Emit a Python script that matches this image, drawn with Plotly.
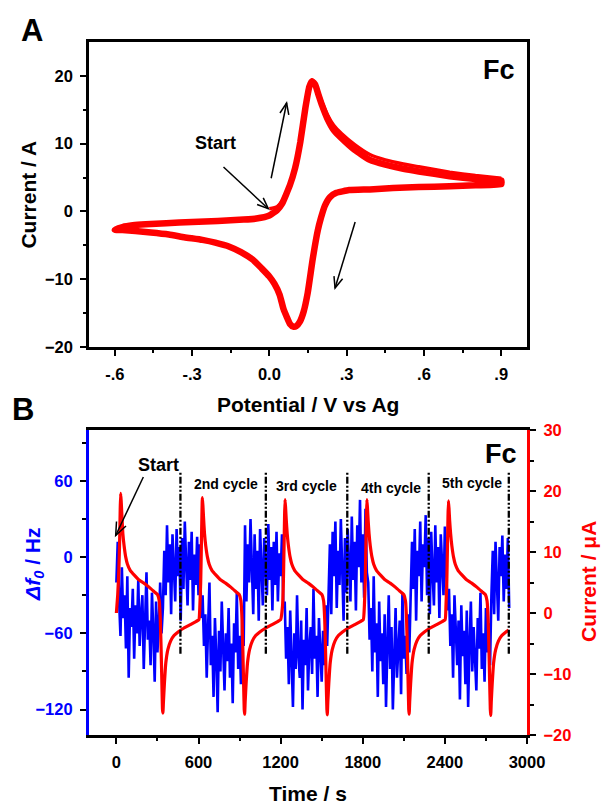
import math
import plotly.graph_objects as go

# ---------------- Panel A: cyclic voltammogram of Fc ----------------
# forward (anodic) sweep, -0.6 V -> 0.9 V
cv_fwd_E = [-0.60, -0.57, -0.53, -0.48, -0.40, -0.30, -0.20, -0.10, -0.05, 0.00,
            0.03, 0.05, 0.08, 0.10, 0.12, 0.14, 0.155, 0.166, 0.178, 0.19,
            0.205, 0.225, 0.25, 0.28, 0.33, 0.39, 0.45, 0.52, 0.58, 0.70, 0.80, 0.90]
cv_fwd_I = [-2.7, -2.3, -2.05, -1.9, -1.75, -1.55, -1.4, -1.2, -1.05, -0.6,
            0.2, 1.2, 3.9, 6.4, 10.2, 15.3, 18.4, 19.2, 18.7, 17.3,
            15.6, 13.7, 12.0, 10.8, 9.1, 7.6, 6.9, 6.3, 5.9, 5.2, 4.8, 4.6]
# reverse (cathodic) sweep, 0.9 V -> -0.6 V
cv_rev_E = [0.90, 0.80, 0.70, 0.58, 0.48, 0.39, 0.31, 0.26, 0.235, 0.215, 0.20, 0.188,
            0.168, 0.149, 0.133, 0.118, 0.105, 0.093, 0.08, 0.068, 0.055, 0.04, 0.02,
            0.0, -0.03, -0.065, -0.11, -0.155, -0.21, -0.26, -0.33, -0.39, -0.46,
            -0.52, -0.57, -0.60]
cv_rev_I = [4.0, 3.85, 3.7, 3.6, 3.45, 3.25, 3.15, 2.75, 2.1, 0.8, -1.0, -2.8,
            -7.1, -12.0, -14.8, -16.3, -16.9, -17.0, -16.6, -15.6, -14.4, -12.3, -10.7,
            -9.6, -8.4, -7.1, -6.0, -5.2, -4.6, -4.2, -3.8, -3.4, -3.1,
            -2.9, -2.75, -2.7]
# first half-scan starting at 0.0 V
first_scan_E = [0.0, 0.03, 0.05, 0.08, 0.10, 0.12, 0.14, 0.155, 0.166, 0.178, 0.19,
                0.205, 0.225, 0.25, 0.28, 0.33, 0.39, 0.45, 0.52, 0.58, 0.70, 0.80, 0.90]
first_scan_I = [0.4, 0.7, 1.6, 4.1, 6.6, 10.4, 15.5, 18.6, 19.4, 18.9, 17.6,
                16.1, 14.3, 12.7, 11.5, 9.9, 8.4, 7.6, 7.0, 6.6, 5.8, 5.3, 4.9]

# ---------------- Panel B: EQCM frequency and current vs time ----------------
freq_time = list(range(0, 2880, 10))
freq_hz = [
    # 0 - 330 s
    -20, 12, -35, -62, -8, -48, -30, -72, -15, -95, -40, -55, -25, -80, -38, -60, -18,
    -70, -45, -30, -88, -42, -12, -65, -50, -85, -28, -58, -98, -35, -75, -52, -20, -60,
    # 340 - 620 s
    -40, 5, -30, 25, -20, 10, -45, 18, -5, -35, 22, -15, 8, -50, 15, -25, 28, -10,
    -38, 12, -18, 20, -42, 2, -22, 16, -30, 10, -48,
    # 630 - 930 s
    -30, -70, -45, -95, -55, -20, -85, -62, -110, -48, -78, -122, -58, -90, -35, -72,
    -105, -60, -82, -40, -95, -68, -115, -52, -75, -28, -88, -62, -100, -45, -70,
    # 940 - 1220 s
    25, -35, 10, -20, 30, -8, -45, 18, -25, 5, -50, 22, -12, -38, 15, -5, -30, 26,
    -18, 8, -42, 12, -22, 20, -35, 3, -15, 18, -40,
    # 1230 - 1540 s
    -35, -80, -55, -100, -42, -72, -118, -60, -88, -30, -78, -95, -50, -120, -65, -85,
    -40, -105, -70, -55, -92, -25, -80, -62, -110, -48, -75, -98, -58, -85, -38, -70,
    # 1550 - 1830 s
    -30, 10, -45, 20, -15, 28, -40, 5, -22, 30, -10, -50, 15, -28, 22, -5, -35, 32,
    -18, 12, -42, 25, -8, 45, -20, 18, -32, 38, -12,
    # 1840 - 2140 s
    -20, -65, -40, -90, -15, -75, -52, -110, -35, -82, -60, -100, -45, -118, -70, -30,
    -88, -55, -120, -65, -40, -95, -72, -50, -108, -28, -80, -62, -92, -45, -75,
    # 2150 - 2420 s
    -40, 12, -25, 22, -50, 5, -15, 28, -35, 10, -8, 33, -30, 15, -45, 20, -12, -38,
    25, -20, 8, -48, 18, -5, -30, 24, -18, -42,
    # 2430 - 2730 s
    -25, -70, -45, -95, -30, -62, -85, -50, -112, -38, -78, -58, -100, -42, -118, -68,
    -35, -90, -55, -80, -105, -48, -72, -28, -88, -60, -98, -40, -75, -52, -85,
    # 2740 - 2870 s
    -30, 5, -45, 12, -20, -50, 8, -15, 17, -35, 2, -25, 15, -40,
]

cur_t1 = [0, 10, 18, 24, 28, 31, 35, 40, 47, 56, 68, 81, 101, 131, 161, 201, 241, 276,
          301, 313, 321, 327, 332, 337, 340, 344, 351, 361, 376, 396, 421, 451, 491, 541,
          581, 603]
cur_i1 = [0.0, 3.0, 7.0, 12.0, 17.0, 19.6, 18.4, 16.1, 13.1, 11.1, 9.2, 8.0, 7.0, 6.2,
          5.5, 4.9, 4.2, 3.5, 3.0, 2.0, -1.0, -6.0, -11.0, -15.8, -16.4, -14.5, -11.5,
          -8.2, -6.0, -4.6, -3.7, -3.1, -2.5, -1.9, -1.4, -1.1]
cur_t2 = [610, 616, 621, 625, 628, 632, 637, 644, 653, 665, 678, 698, 728, 758, 798, 838,
          873, 898, 910, 918, 924, 929, 934, 937, 941, 948, 958, 973, 993, 1018, 1048,
          1088, 1138, 1178, 1200]
cur_i2 = [1.2, 5.0, 11.0, 16.0, 18.9, 17.7, 15.6, 13.0, 11.0, 9.2, 8.0, 7.0, 6.2, 5.5,
          4.9, 4.2, 3.5, 3.0, 2.0, -1.0, -6.0, -11.0, -15.8, -16.6, -14.5, -11.5, -8.2,
          -6.0, -4.6, -3.7, -3.1, -2.5, -1.9, -1.4, -1.1]
cur_t3 = [1214, 1220, 1225, 1229, 1232, 1236, 1241, 1248, 1257, 1269, 1282, 1302, 1332,
          1362, 1402, 1442, 1477, 1502, 1514, 1522, 1528, 1533, 1538, 1541, 1545, 1552,
          1562, 1577, 1597, 1622, 1652, 1692, 1742, 1782, 1804]
cur_i3 = [1.2, 5.0, 11.0, 16.0, 18.6, 17.4, 15.3, 13.0, 11.0, 9.2, 8.0, 7.0, 6.2, 5.5,
          4.9, 4.2, 3.5, 3.0, 2.0, -1.0, -6.0, -11.0, -15.8, -16.7, -14.5, -11.5, -8.2,
          -6.0, -4.6, -3.7, -3.1, -2.5, -1.9, -1.4, -1.1]
cur_t4 = [1812, 1818, 1823, 1827, 1830, 1834, 1839, 1846, 1855, 1867, 1880, 1900, 1930,
          1960, 2000, 2040, 2075, 2100, 2112, 2120, 2126, 2131, 2136, 2139, 2143, 2150,
          2160, 2175, 2195, 2220, 2250, 2290, 2340, 2380, 2402]
cur_i4 = [1.2, 5.0, 11.0, 16.0, 18.6, 17.4, 15.3, 13.0, 11.0, 9.2, 8.0, 7.0, 6.2, 5.5,
          4.9, 4.2, 3.5, 3.0, 2.0, -1.0, -6.0, -11.0, -15.8, -16.6, -14.5, -11.5, -8.2,
          -6.0, -4.6, -3.7, -3.1, -2.5, -1.9, -1.4, -1.1]
cur_t5 = [2408, 2414, 2419, 2423, 2426, 2430, 2435, 2442, 2451, 2463, 2476, 2496, 2526,
          2556, 2596, 2636, 2671, 2696, 2708, 2716, 2722, 2727, 2732, 2735, 2739, 2746,
          2756, 2771, 2791, 2816, 2846, 2866]
cur_i5 = [1.2, 5.0, 11.0, 16.0, 18.4, 17.2, 15.1, 13.0, 11.0, 9.2, 8.0, 7.0, 6.2, 5.5,
          4.9, 4.2, 3.5, 3.0, 2.0, -1.0, -6.0, -11.0, -15.8, -16.8, -14.5, -11.5, -8.2,
          -6.0, -4.6, -3.7, -3.1, -2.8]

cycle_bounds = [468, 1092, 1687, 2282, 2867]
cycle_names = ["2nd cycle", "3rd cycle", "4th cycle", "5th cycle"]

# ---------------- figure ----------------
FONT = "Liberation Sans, Arial, sans-serif"
RED = "#ff0000"
BLUE = "#0000ff"
W, H = 603, 806
ML, MR, MT, MB = 89, 76, 42, 71
PW, PH = W - ML - MR, 305          # plot-area width, each panel height
TOP_DOM = [0.5599, 1.0]
BOT_DOM = [0.0, 0.4401]

XA_RANGE = [-0.7, 1.0]
YA_RANGE = [-20, 25]
XB_RANGE = [-200, 3000]
YB_RANGE = [-140, 100]
YB2_RANGE = [-20, 30]

fig = go.Figure()

loop_E = cv_fwd_E + cv_rev_E
loop_I = cv_fwd_I + cv_rev_I
fig.add_trace(go.Scatter(x=loop_E, y=loop_I, mode="lines", xaxis="x", yaxis="y",
                         line=dict(color=RED, width=6.5, shape="spline", smoothing=0.4),
                         showlegend=False, hoverinfo="skip"))
fig.add_trace(go.Scatter(x=first_scan_E, y=first_scan_I, mode="lines", xaxis="x", yaxis="y",
                         line=dict(color=RED, width=3.4, shape="spline", smoothing=0.4),
                         showlegend=False, hoverinfo="skip"))

fig.add_trace(go.Scatter(x=freq_time, y=freq_hz, mode="lines", xaxis="x2", yaxis="y2",
                         line=dict(color=BLUE, width=2.6), showlegend=False, hoverinfo="skip"))

cur_t = cur_t1 + cur_t2 + cur_t3 + cur_t4 + cur_t5
cur_i = cur_i1 + cur_i2 + cur_i3 + cur_i4 + cur_i5
fig.add_trace(go.Scatter(x=cur_t, y=cur_i, mode="lines", xaxis="x2", yaxis="y3",
                         line=dict(color=RED, width=3.2, shape="spline", smoothing=0.4),
                         showlegend=False, hoverinfo="skip"))

tickfont = dict(family=FONT, size=16.5, color="black", weight="bold")
common = dict(ticks="outside", ticklen=6, tickwidth=2, tickcolor="black",
              showline=True, linewidth=2.5, showgrid=False, zeroline=False,
              ticklabelstandoff=4)

fig.update_layout(
    width=W, height=H, margin=dict(l=ML, r=MR, t=MT, b=MB),
    paper_bgcolor="white", plot_bgcolor="white",
    font=dict(family=FONT, color="black"),
    showlegend=False,
    xaxis=dict(domain=[0, 1], anchor="y", range=XA_RANGE, linecolor="black", mirror=True,
               tickmode="array", tickvals=[-0.6, -0.3, 0.0, 0.3, 0.6, 0.9],
               ticktext=["-.6", "-.3", "0.0", ".3", ".6", ".9"], tickfont=tickfont,
               minor=dict(tickmode="array", tickvals=[-0.45, -0.15, 0.15, 0.45, 0.75],
                          ticklen=3.5, tickwidth=1.5, tickcolor="black"), **common),
    yaxis=dict(domain=TOP_DOM, anchor="x", range=YA_RANGE, linecolor="black", mirror=True,
               tickmode="array", tickvals=[-20, -10, 0, 10, 20], tickfont=tickfont,
               minor=dict(tickmode="array", tickvals=[-15, -5, 5, 15],
                          ticklen=3.5, tickwidth=1.5, tickcolor="black"), **common),
    xaxis2=dict(domain=[0, 1], anchor="y2", range=XB_RANGE, linecolor="black", mirror=True,
                tickmode="array", tickvals=[0, 600, 1200, 1800, 2400, 3000], tickfont=tickfont,
                minor=dict(tickmode="array", tickvals=[300, 900, 1500, 2100, 2700],
                           ticklen=3.5, tickwidth=1.5, tickcolor="black"), **common),
    yaxis2=dict(domain=BOT_DOM, anchor="x2", range=YB_RANGE, linecolor=BLUE,
                tickmode="array", tickvals=[-120, -60, 0, 60],
                tickfont=dict(tickfont, color=BLUE),
                minor=dict(tickmode="array", tickvals=[-90, -30, 30, 90],
                           ticklen=3.5, tickwidth=1.5, tickcolor="black"),
                **dict(common, linewidth=3.2)),
    yaxis3=dict(overlaying="y2", side="right", anchor="x2", range=YB2_RANGE, linecolor=RED,
                tickmode="array", tickvals=[-20, -10, 0, 10, 20, 30],
                tickfont=dict(tickfont, color=RED),
                minor=dict(tickmode="array", tickvals=[-15, -5, 5, 15, 25],
                           ticklen=3.5, tickwidth=1.5, tickcolor="black"),
                **dict(common, linewidth=3.2)),
)

# cycle boundaries (dash-dot-dot)
for tb in cycle_bounds:
    fig.add_shape(type="line", xref="x2", yref="y2", x0=tb, x1=tb, y0=-76, y1=68,
                  line=dict(color="black", width=2.3, dash="7px,2px,2px,2px,2px,2px"))


def add_arrow(xref, yref, tail, tip, xspan, yspan, head_px=12, half_angle=22):
    """Thin arrow with an open V head; tail/tip in data units."""
    sx = PW / xspan
    sy = PH / yspan
    dx = (tip[0] - tail[0]) * sx
    dy = (tip[1] - tail[1]) * sy
    n = math.hypot(dx, dy)
    ux, uy = dx / n, dy / n
    wings = []
    for s in (1, -1):
        a = math.radians(half_angle * s)
        bx = -(ux * math.cos(a) - uy * math.sin(a))
        by = -(ux * math.sin(a) + uy * math.cos(a))
        wings.append((tip[0] + bx * head_px / sx, tip[1] + by * head_px / sy))
    line = dict(color="black", width=1.5)
    fig.add_shape(type="line", xref=xref, yref=yref, x0=tail[0], y0=tail[1],
                  x1=tip[0], y1=tip[1], line=line)
    fig.add_shape(type="path", xref=xref, yref=yref, line=line,
                  path=f"M {wings[0][0]},{wings[0][1]} L {tip[0]},{tip[1]} "
                       f"L {wings[1][0]},{wings[1][1]}")


xa_span = XA_RANGE[1] - XA_RANGE[0]
ya_span = YA_RANGE[1] - YA_RANGE[0]
xb_span = XB_RANGE[1] - XB_RANGE[0]
yb_span = YB_RANGE[1] - YB_RANGE[0]

add_arrow("x", "y", (-0.178, 6.55), (-0.004, 0.4), xa_span, ya_span)
add_arrow("x", "y", (0.007, 4.9), (0.067, 16.0), xa_span, ya_span)
add_arrow("x", "y", (0.333, -1.56), (0.255, -11.3), xa_span, ya_span)
add_arrow("x2", "y2", (197, 63), (-5, 17), xb_span, yb_span, head_px=14)


def text(x, y, s, size, xref="paper", yref="paper", color="black", angle=0):
    fig.add_annotation(x=x, y=y, xref=xref, yref=yref, text=s, showarrow=False,
                       textangle=angle, xanchor="center", yanchor="middle",
                       font=dict(family=FONT, size=size, color=color, weight="bold"))


# panel letters
text(-0.130, 1.0159, "A", 31)
text(-0.150, 0.4704, "B", 31)
# compound labels
text(0.936, 0.9596, "Fc", 27)
text(0.941, 0.4055, "Fc", 27)
# axis titles
text(-0.139, 0.780, "Current / A", 21, angle=-90)
text(0.5, 0.4776, "Potential / V vs Ag", 21)
text(-0.1256, 0.2468, "<i>Δf</i><sub><i>0</i></sub> / Hz", 21, color=BLUE, angle=-90)
text(1.1416, 0.2208, "Current / μA", 21, color=RED, angle=-90)
text(0.5, -0.0837, "Time / s", 21)
# in-plot labels
text(-0.21, 10.1, "Start", 18, xref="x", yref="y")
text(310, 72.4, "Start", 18, xref="x2", yref="y2")
for name, tc, hz in zip(cycle_names, [803, 1391, 2005, 2600], [57.2, 55.8, 54.0, 58.0]):
    text(tc, hz, name, 14, xref="x2", yref="y2")

fig.write_html("out.html")
